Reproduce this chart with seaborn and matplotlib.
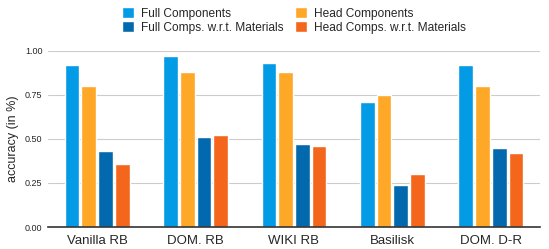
import pandas as pd
import matplotlib.pyplot as plt
import seaborn as sns

# chart data
categories = ['Vanilla RB', 'DOM. RB', 'WIKI RB', 'Basilisk', 'DOM. D-R']
series = ['Full Components', 'Head Components',
          'Full Comps. w.r.t. Materials', 'Head Comps. w.r.t. Materials']
full_comp = [0.92, 0.97, 0.93, 0.71, 0.92]
head_comp = [0.80, 0.88, 0.88, 0.75, 0.80]
full_mat = [0.43, 0.51, 0.47, 0.24, 0.45]
head_mat = [0.36, 0.52, 0.46, 0.30, 0.42]
colors = ['#039BE5', '#FFA726', '#0369AE', '#F4661B']

rows = []
for name, vals in zip(series, [full_comp, head_comp, full_mat, head_mat]):
    for cat, v in zip(categories, vals):
        rows.append({'category': cat, 'series': name, 'accuracy': v})
df = pd.DataFrame(rows)

sns.set_style('white')
plt.rcParams['font.family'] = ['Liberation Sans', 'DejaVu Sans']

fig = plt.figure(figsize=(5.49, 2.49), dpi=100)
ax = fig.add_axes([48 / 549, 22 / 249, 492 / 549, 176 / 249])

sns.barplot(data=df, x='category', y='accuracy', hue='series',
            hue_order=series, palette=colors, width=0.68, gap=0.12,
            saturation=1, ax=ax, legend=True)

ax.set_ylim(0, 1.0)
ax.set_yticks([0, 0.25, 0.5, 0.75, 1.0])
ax.set_yticklabels(['0.00', '0.25', '0.50', '0.75', '1.00'], fontsize=6.5)
ax.yaxis.grid(True, color='#cccccc', linewidth=0.8)
ax.set_axisbelow(True)
ax.tick_params(axis='both', length=0, pad=4)
ax.tick_params(axis='x', labelsize=9.5, pad=6)
ax.set_xlabel('')
ax.set_ylabel('accuracy (in %)', fontsize=9)
for s in ['top', 'right', 'left']:
    ax.spines[s].set_visible(False)
ax.spines['bottom'].set_color('#333333')
ax.spines['bottom'].set_linewidth(1.2)
ax.set_xlim(-0.5, 4.5)

# legend is filled column-wise, so reorder to read row-wise like the original
handles, labels = ax.get_legend_handles_labels()
order = [0, 2, 1, 3]
ax.legend([handles[i] for i in order], [labels[i] for i in order],
          ncol=2, loc='lower center',
          bbox_to_anchor=(0.5, 1.07), frameon=False, fontsize=8.6,
          handlelength=1.0, handleheight=1.0, handletextpad=0.6,
          columnspacing=1.0, labelspacing=0.15, borderaxespad=0)

fig.savefig('out.png', dpi=100)
